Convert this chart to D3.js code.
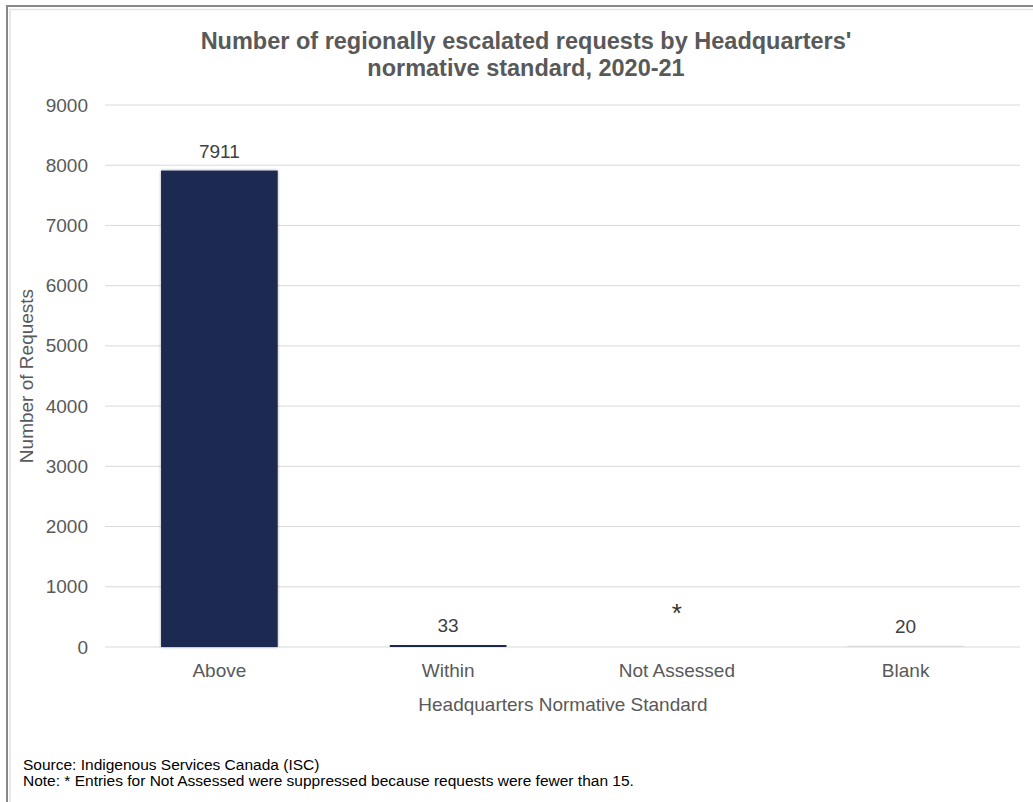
<!DOCTYPE html>
<html><head><meta charset="utf-8">
<script src="https://cdn.jsdelivr.net/npm/d3@7"></script>
<style>
body{margin:0;background:#fff;}
svg text{font-family:"Liberation Sans",Arial,sans-serif;}
</style></head>
<body><svg id="c" width="1033" height="802"></svg>
<script>
const categories = ["Above","Within","Not Assessed","Blank"];
const values = [7911, 33, null, 20];
const labels = ["7911","33","*","20"];
const barColors = ["#1b2951","#1b2951","#1b2951","#d9d9d9"];
const yTicks = [0,1000,2000,3000,4000,5000,6000,7000,8000,9000];

const svg = d3.select("#c");
// frame
svg.append("rect").attr("x",7).attr("y",6).attr("width",1040).attr("height",820)
  .attr("fill","#fff").attr("stroke","#888").attr("stroke-width",2);
svg.append("path").attr("d","M10,802V9.5H1033").attr("fill","none").attr("stroke","#e4e4e4").attr("stroke-width",1.5);

const defs = svg.append("defs");
const f = defs.append("filter").attr("id","sh").attr("x","-10%").attr("y","-10%").attr("width","130%").attr("height","130%");
f.append("feDropShadow").attr("dx",0).attr("dy",0).attr("stdDeviation",1.5).attr("flood-color","#000").attr("flood-opacity",0.35);

const x = d3.scaleBand().domain(categories).range([105,1020]).paddingInner(0.49).paddingOuter(0.245);
const y = d3.scaleLinear().domain([0,9000]).range([647,105]);

// gridlines
svg.append("g").selectAll("line").data(yTicks).join("line")
  .attr("x1",105).attr("x2",1020).attr("y1",d=>y(d)).attr("y2",d=>y(d))
  .attr("stroke","#d9d9d9").attr("stroke-width",1);

// y axis labels
const ya = svg.append("g").attr("transform","translate(97,0)")
  .call(d3.axisLeft(y).tickValues(yTicks).tickSize(0).tickPadding(9).tickFormat(d3.format("d")));
ya.select(".domain").remove();
ya.selectAll("text").attr("font-size",19).attr("fill","#595959").attr("font-family","Liberation Sans, Arial, sans-serif");

// bars
svg.append("g").selectAll("rect").data(categories).join("rect")
  .filter((d,i)=>values[i]!==null)
  .attr("x",d=>x(d)).attr("width",x.bandwidth())
  .attr("y",(d)=>y(values[categories.indexOf(d)]))
  .attr("height",(d)=>y(0)-y(values[categories.indexOf(d)]))
  .attr("fill",(d)=>barColors[categories.indexOf(d)])
  .attr("filter",(d)=>categories.indexOf(d)===0?"url(#sh)":null);

// data labels
svg.append("g").selectAll("text").data(categories).join("text")
  .attr("x",d=>x(d)+x.bandwidth()/2)
  .attr("y",(d,i)=>values[i]===null? y(0)-25 : y(values[i])-13)
  .attr("text-anchor","middle")
  .attr("font-size",(d,i)=>values[i]===null?26:19)
  .attr("fill",(d,i)=>values[i]===null?"#333":"#404040")
  .text((d,i)=>labels[i]);

// x axis labels
const xa = svg.append("g").attr("transform","translate(0,647)")
  .call(d3.axisBottom(x).tickSize(0).tickPadding(16.5));
xa.select(".domain").remove();
xa.selectAll("text").attr("font-size",19).attr("fill","#595959").attr("font-family","Liberation Sans, Arial, sans-serif");

// titles
svg.append("text").attr("x",526).attr("y",49).attr("text-anchor","middle")
  .attr("font-size",23.5).attr("font-weight","bold").attr("fill","#595959")
  .text("Number of regionally escalated requests by Headquarters'");
svg.append("text").attr("x",526).attr("y",76).attr("text-anchor","middle")
  .attr("font-size",23.5).attr("font-weight","bold").attr("fill","#595959")
  .text("normative standard, 2020-21");

svg.append("text").attr("x",563).attr("y",711).attr("text-anchor","middle")
  .attr("font-size",19).attr("fill","#595959").text("Headquarters Normative Standard");
svg.append("text").attr("transform","translate(33,376) rotate(-90)").attr("text-anchor","middle")
  .attr("font-size",19).attr("fill","#595959").text("Number of Requests");

svg.append("text").attr("x",23).attr("y",770).attr("font-size",15.5).attr("fill","#000")
  .text("Source: Indigenous Services Canada (ISC)");
svg.append("text").attr("x",23).attr("y",786).attr("font-size",15.5).attr("fill","#000")
  .text("Note: * Entries for Not Assessed were suppressed because requests were fewer than 15.");
</script></body></html>
